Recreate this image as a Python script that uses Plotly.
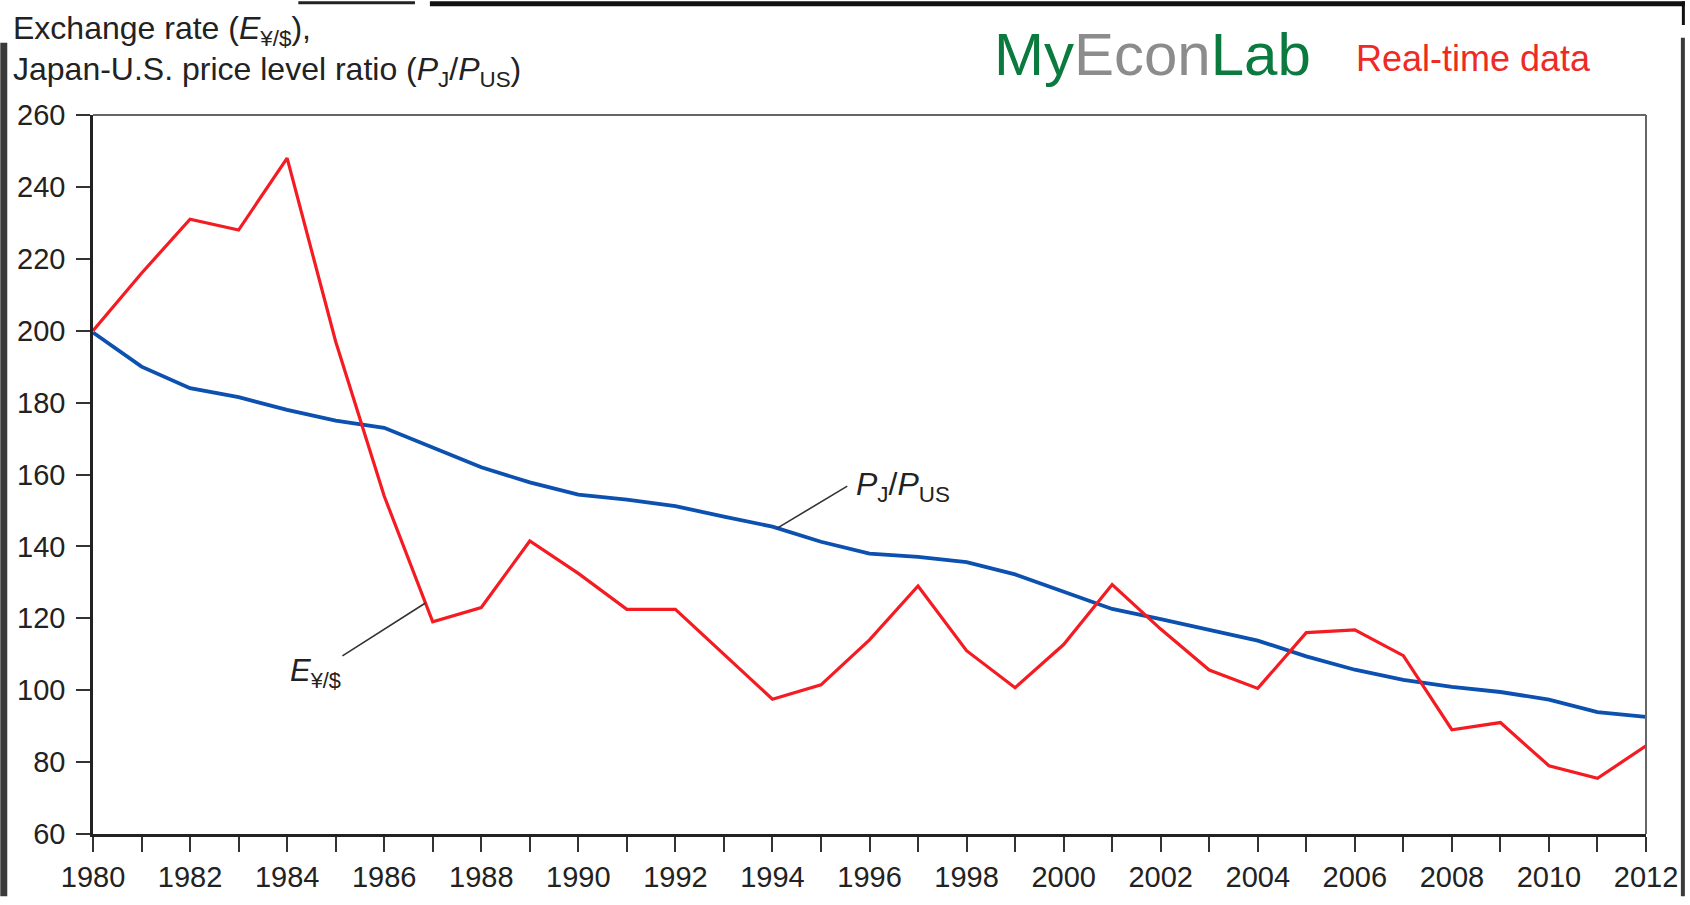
import numpy as np
import plotly.graph_objects as go

# ---- data ----
years = list(range(1980, 2013))
exchange_rate = [200, 216, 231, 228, 248, 197, 154, 119, 123, 141.5, 132.5, 122.5, 122.5,
                 110, 97.5, 101.5, 114, 129, 111, 100.7, 112.7, 129.4, 117, 105.6, 100.5,
                 116, 116.8, 109.6, 89, 91, 79, 75.5, 84.5]
price_ratio = [199.5, 190, 184, 181.5, 178, 175, 173, 167.5, 162, 157.8, 154.4, 153, 151.2,
               148.3, 145.5, 141.3, 138, 137.1, 135.6, 132.2, 127.3, 122.6, 119.8, 116.8, 113.8,
               109.4, 105.7, 102.9, 100.9, 99.5, 97.4, 93.9, 92.6]
x_tick_years = list(range(1980, 2013, 2))
y_ticks = list(range(60, 261, 20))

W, H = 1690, 905
L, R, T, B = 93, 1651, 115, 842   # plot area in pixels

def px(xp):
    return (xp - L) / (R - L)

def py(yp):
    return (B - yp) / (B - T)

FONT = "Liberation Sans, Arial, Helvetica, sans-serif"

fig = go.Figure()
fig.add_trace(go.Scatter(x=years, y=price_ratio, mode="lines",
                         line=dict(color="#0c50b0", width=3.8), showlegend=False))
fig.add_trace(go.Scatter(x=years, y=exchange_rate, mode="lines",
                         line=dict(color="#f41c22", width=3.2), showlegend=False))

ax_common = dict(showgrid=False, zeroline=False, showline=True, linecolor="#222",
                 linewidth=2.5, ticks="outside", tickwidth=2, tickcolor="#333",
                 tickfont=dict(family=FONT, size=29, color="#222"))

fig.update_xaxes(range=[1980, 2012], tickvals=x_tick_years,
                 ticktext=[str(y) for y in x_tick_years], ticklen=15,
                 minor=dict(dtick=1, ticks="outside", ticklen=15, tickwidth=2, tickcolor="#333"),
                 **ax_common)
fig.update_yaxes(range=[60, 260], tickvals=y_ticks, ticktext=[str(v) for v in y_ticks],
                 ticklen=14, ticklabelstandoff=5, **ax_common)

shapes = []
# top and right frame
shapes.append(dict(type="line", xref="paper", yref="paper", x0=0, x1=1, y0=1, y1=1,
                   line=dict(color="#666", width=2)))
shapes.append(dict(type="line", xref="paper", yref="paper", x0=1, x1=1, y0=0, y1=1,
                   line=dict(color="#666", width=2)))
# scan border artifacts
for (x0, y0, x1, y1, c) in [(0, 42, 7, 905, "#3a3a3a"), (1686, 37, 1690, 905, "#3a3a3a"),
                            (431, 0, 1690, 5, "#111"), (299, 0, 416, 3, "#222"),
                            (1687, 0, 1690, 24, "#111")]:
    shapes.append(dict(type="rect", xref="paper", yref="paper", x0=px(x0), x1=px(x1),
                       y0=py(y0), y1=py(y1), line=dict(width=0), fillcolor=c, layer="above"))

annotations = []
# axis title (two lines)
annotations.append(dict(xref="paper", yref="paper", x=px(11), y=py(30), xanchor="left",
                        yanchor="middle", showarrow=False,
                        text="Exchange rate (<i>E</i><sub>¥/$</sub>),",
                        font=dict(family=FONT, size=32, color="#222")))
annotations.append(dict(xref="paper", yref="paper", x=px(11), y=py(71), xanchor="left",
                        yanchor="middle", showarrow=False,
                        text="Japan-U.S. price level ratio (<i>P</i><sub>J</sub>/<i>P</i><sub>US</sub>)",
                        font=dict(family=FONT, size=32, color="#222")))
# logo
annotations.append(dict(xref="paper", yref="paper", x=px(995), y=py(54), xanchor="left",
                        yanchor="middle", showarrow=False,
                        text="<span style='color:#0b7a3f'>My</span><span style='color:#8c8c8c'>Econ</span><span style='color:#0b7a3f'>Lab</span>",
                        font=dict(family=FONT, size=60)))
annotations.append(dict(xref="paper", yref="paper", x=px(1358), y=py(58), xanchor="left",
                        yanchor="middle", showarrow=False, text="Real-time data",
                        font=dict(family=FONT, size=36, color="#ee2a24")))

# labels with leader lines
tip_e_year = 1986.85
tip_e_val = float(np.interp(tip_e_year, years, exchange_rate))
annotations.append(dict(x=tip_e_year, y=tip_e_val, xref="x", yref="y",
                        text="<i>E</i><sub>¥/$</sub>", showarrow=True, arrowhead=0,
                        arrowwidth=1.6, arrowcolor="#333", ax=-110, ay=70,
                        font=dict(family=FONT, size=31, color="#222")))
tip_p_year = 1994.1
tip_p_val = float(np.interp(tip_p_year, years, price_ratio))
annotations.append(dict(x=tip_p_year, y=tip_p_val, xref="x", yref="y",
                        text="<i>P</i><sub>J</sub>/<i>P</i><sub>US</sub>", showarrow=True,
                        arrowhead=0, arrowwidth=1.6, arrowcolor="#333", ax=70, ay=-42,
                        xanchor="left", yanchor="middle", borderpad=8,
                        font=dict(family=FONT, size=32, color="#222")))

fig.update_layout(width=W, height=H, margin=dict(l=L, r=W - R, t=T, b=H - B, pad=0),
                  paper_bgcolor="white", plot_bgcolor="white",
                  shapes=shapes, annotations=annotations)

fig.write_html("out.html", config={"displayModeBar": False},
               post_script="document.body.style.margin='0';")
